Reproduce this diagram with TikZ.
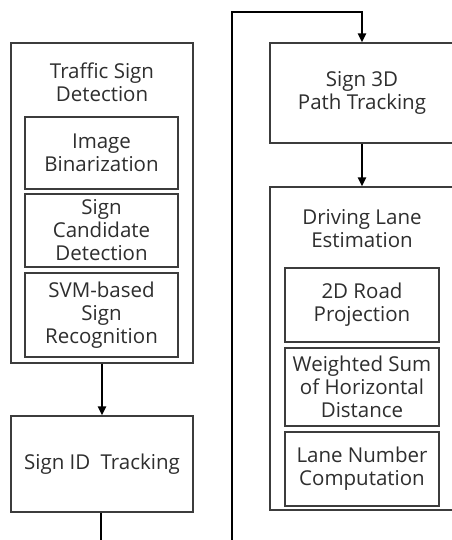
\documentclass[tikz,border=0pt]{standalone}
\usepackage{fontspec}
\setmainfont{Open Sans}
\usetikzlibrary{arrows.meta}
\definecolor{boxline}{HTML}{3C3C3C}
\definecolor{txt}{HTML}{2E2E2E}
\begin{document}
\begin{tikzpicture}[x=1pt,y=-1pt,
  label text/.style={text=txt,align=center,font=\fontsize{20.5}{23}\selectfont},
  box/.style={draw=boxline,line width=1.2pt,fill=white,inner sep=0pt,
    minimum width=#1,label text},
  box/.default=182pt,
  flow/.style={line width=2pt,black,-{Triangle[width=8pt,length=9pt]}}]
\useasboundingbox (0,0) rectangle (451,540);

% left column: detection stage
\node[box=182pt,minimum height=320pt] (tsd) at (102,203) {};
\node[label text] (tsdtitle) at (102,82) {Traffic Sign\\Detection};
\node[box=153pt,minimum height=72pt] (bin) at (101.5,153) {Image\\Binarization};
\node[box=153pt,minimum height=73pt] (cand) at (101.5,230.5) {Sign\\Candidate\\Detection};
\node[box=153pt,minimum height=84pt] (svm) at (101.5,315) {SVM-based\\Sign\\Recognition};

\node[box=182pt,minimum height=96pt] (sid) at (102,464) {Sign ID\hspace{0.5em}Tracking};

% right column: tracking and lane estimation
\node[box=184pt,minimum height=100pt] (s3d) at (362,93) {Sign 3D\\Path Tracking};
\node[box=184pt,minimum height=323pt] (dle) at (362,348.5) {};
\node[label text] (dletitle) at (362,229) {Driving Lane\\Estimation};
\node[box=154pt,minimum height=74pt] (road) at (362,305) {2D Road\\Projection};
\node[box=154pt,minimum height=78pt] (wsum) at (362,387) {Weighted Sum\\of Horizontal\\Distance};
\node[box=154pt,minimum height=74pt] (lane) at (362,469) {Lane Number\\Computation};

% connectors
\coordinate (down) at (101,560);
\coordinate (low) at (232,560);
\coordinate (top) at (232,12.5);
\coordinate (over) at (362,12.5);
\draw[flow] (tsd.south -| sid.north) -- (sid.north);
\draw[flow] ([xshift=-1pt]sid.south) -- ([xshift=-1pt]sid.south |- down) -- (low) -- (top) -- (over) -- (s3d.north);
\draw[flow] (s3d.south) -- (dle.north);
\end{tikzpicture}
\end{document}
